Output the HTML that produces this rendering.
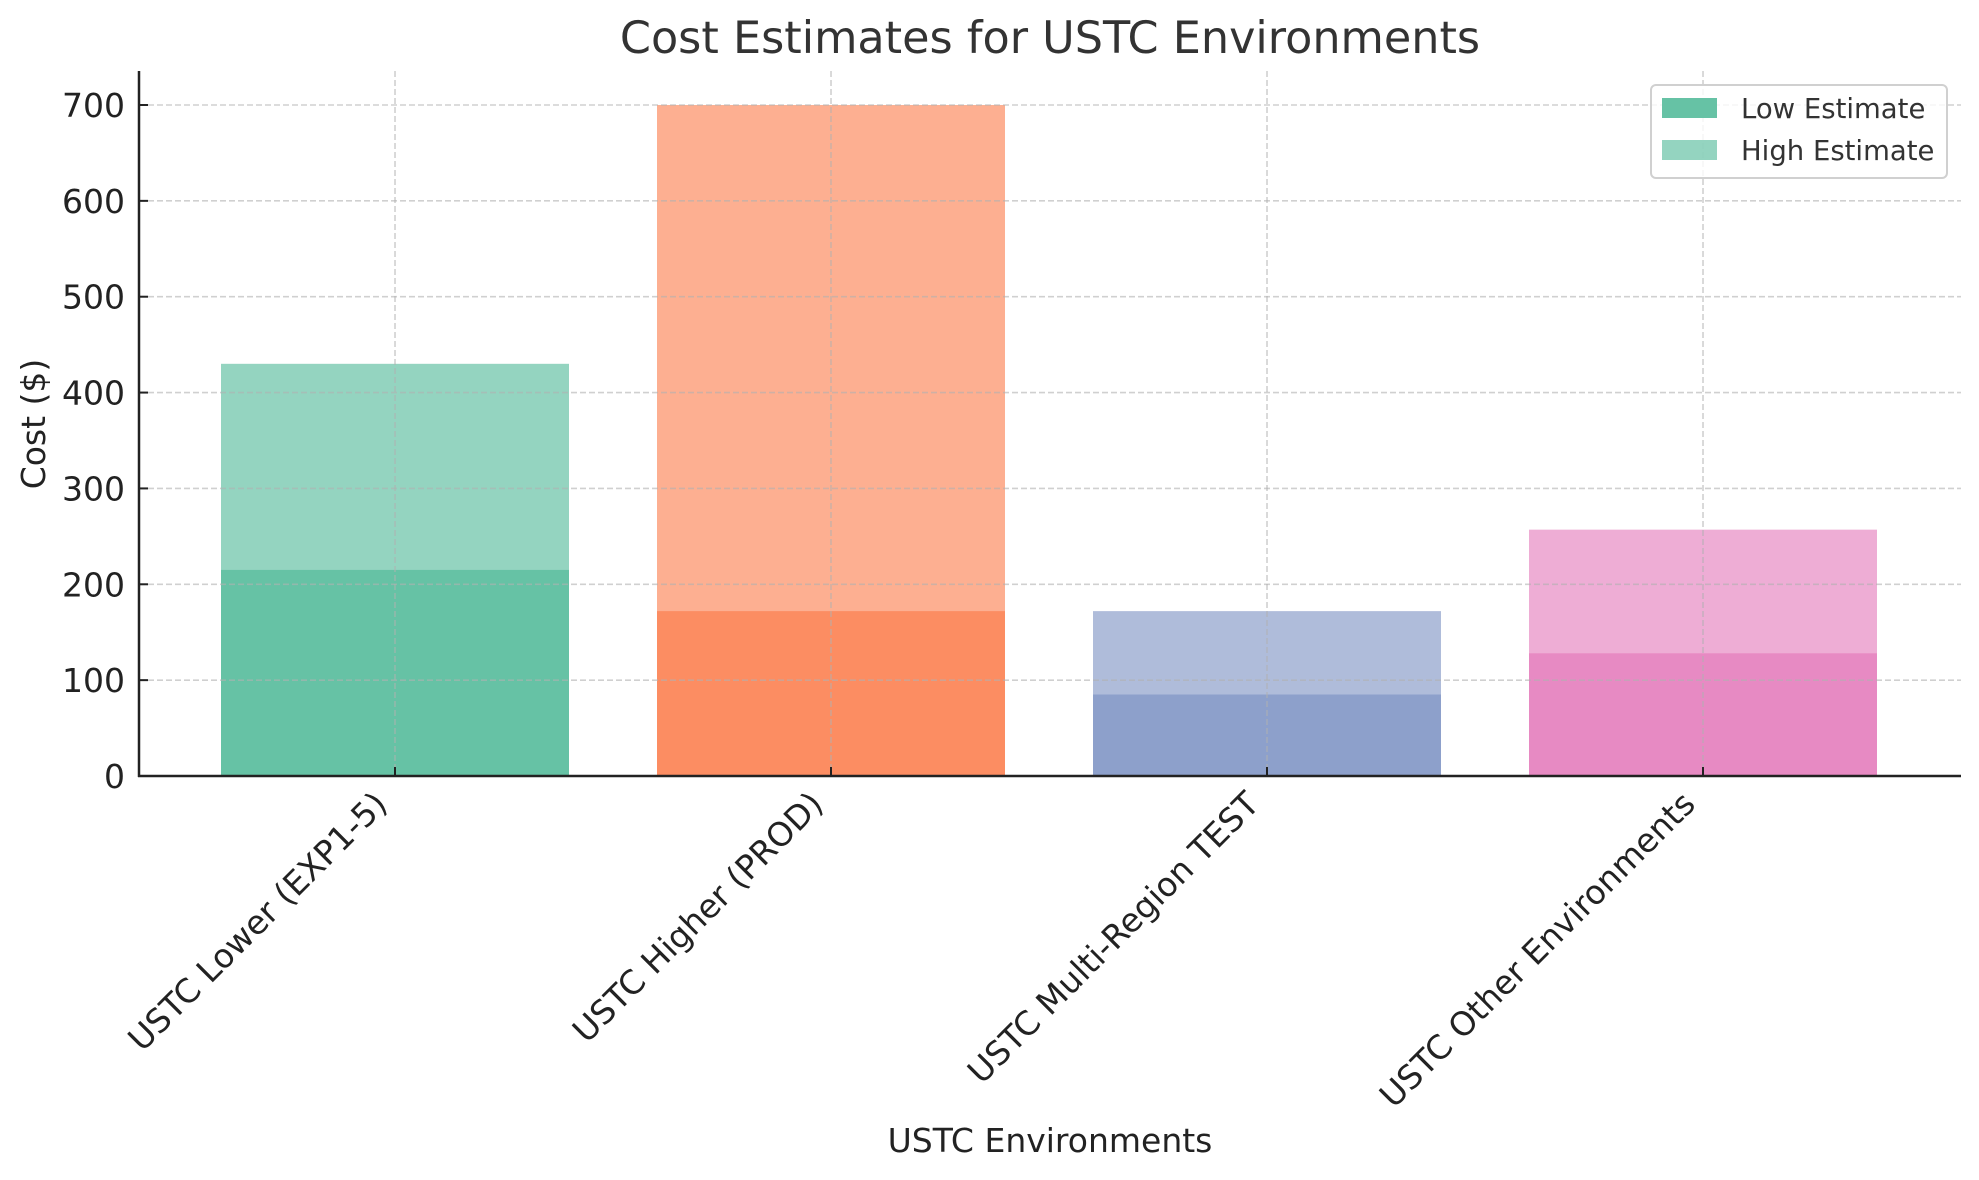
<!DOCTYPE html>
<html><head><meta charset="utf-8"><style>
html,body{margin:0;padding:0;background:#fff;}
svg{display:block;font-family:"DejaVu Sans","Liberation Sans",sans-serif;}
</style></head><body>
<svg id="chart" width="1979" height="1180" viewBox="0 0 1979 1180" xmlns="http://www.w3.org/2000/svg">
<text x="1050" y="53" font-size="44.5" fill="#333" text-anchor="middle">Cost Estimates for USTC Environments</text>
<text x="1050" y="1152" font-size="33" fill="#222" text-anchor="middle">USTC Environments</text>
<text transform="translate(45,424) rotate(-90)" font-size="33" fill="#222" text-anchor="middle">Cost ($)</text>
<g id="bars"></g>
<g id="grid"></g>
<g id="axes"></g>
<g>
<rect x="1651" y="85" width="296" height="93" rx="5" fill="#fff" fill-opacity="0.8" stroke="#d0d0d0" stroke-width="2"/>
<rect x="1662" y="98" width="55" height="20" fill="#66c2a5"/>
<text x="1741" y="118" font-size="27.5" fill="#333">Low Estimate</text>
<rect x="1662" y="140" width="55" height="20" fill="#66c2a5" fill-opacity="0.7"/>
<text x="1741" y="160" font-size="27.5" fill="#333">High Estimate</text>
</g>
</svg>
<script>
const categories = ["USTC Lower (EXP1-5)", "USTC Higher (PROD)", "USTC Multi-Region TEST", "USTC Other Environments"];
const lowValues = [215, 172, 85, 128];
const highValues = [430, 700, 172, 257];
const colors = ["#66c2a5", "#fc8d62", "#8da0cb", "#e78ac3"];
const yTicks = [0, 100, 200, 300, 400, 500, 600, 700];

const NS = "http://www.w3.org/2000/svg";
const L = 139, R = 1961, T = 71, B = 776;
const y0px = 776, y700px = 105;
function yScale(v){ return y0px - v * (y0px - y700px) / 700; }
const x0c = 395, step = 436, barW = 348;
function xScale(i){ return x0c + i * step; }
function mk(tag, attrs, parent){ const e = document.createElementNS(NS, tag); for (const k in attrs) e.setAttribute(k, attrs[k]); parent.appendChild(e); return e; }

const bars = document.getElementById("bars");
categories.forEach((c, i) => {
  const cx = xScale(i);
  const h = mk("rect", {x: cx - barW/2, y: yScale(highValues[i]), width: barW, height: yScale(0) - yScale(highValues[i]), fill: colors[i], "fill-opacity": 0.7}, bars);
  
  
  const l = mk("rect", {x: cx - barW/2, y: yScale(lowValues[i]), width: barW, height: yScale(0) - yScale(lowValues[i]), fill: colors[i]}, bars);
  
  
});

const grid = document.getElementById("grid");
yTicks.forEach(t => {
  const g = mk("line", {x1: L, x2: R, y1: yScale(t), y2: yScale(t), stroke: "#b0b0b0", "stroke-opacity": 0.6, "stroke-width": 1.6, "stroke-dasharray": "6 3"}, grid);
  
  
});
categories.forEach((c, i) => {
  const g = mk("line", {x1: xScale(i), x2: xScale(i), y1: T, y2: B, stroke: "#b0b0b0", "stroke-opacity": 0.6, "stroke-width": 1.6, "stroke-dasharray": "6 3"}, grid);
  
  
});

const axes = document.getElementById("axes");
const ya = mk("line", {x1: L, x2: L, y1: T, y2: B + 1, stroke: "#222", "stroke-width": 2.5}, axes);


const xa = mk("line", {x1: L - 1, x2: R, y1: B, y2: B, stroke: "#222", "stroke-width": 2.5}, axes);


yTicks.forEach(t => {
  const tk = mk("line", {x1: L, x2: L + 9, y1: yScale(t), y2: yScale(t), stroke: "#222", "stroke-width": 2}, axes);
  
  
  const lb = mk("text", {x: L - 14, y: yScale(t) + 12, "font-size": 33, fill: "#222", "text-anchor": "end"}, axes);
  lb.textContent = t;
  
  
});
categories.forEach((c, i) => {
  const cx = xScale(i);
  const tk = mk("line", {x1: cx, x2: cx, y1: B, y2: B - 9, stroke: "#222", "stroke-width": 2}, axes);
  
  
  const px = cx - 6, py = 806;
  const lb = mk("text", {x: px, y: py, "font-size": 33, fill: "#222", "text-anchor": "end", transform: "rotate(-45 " + px + " " + py + ")"}, axes);
  lb.textContent = c;
  
  
});
</script>
</body></html>
